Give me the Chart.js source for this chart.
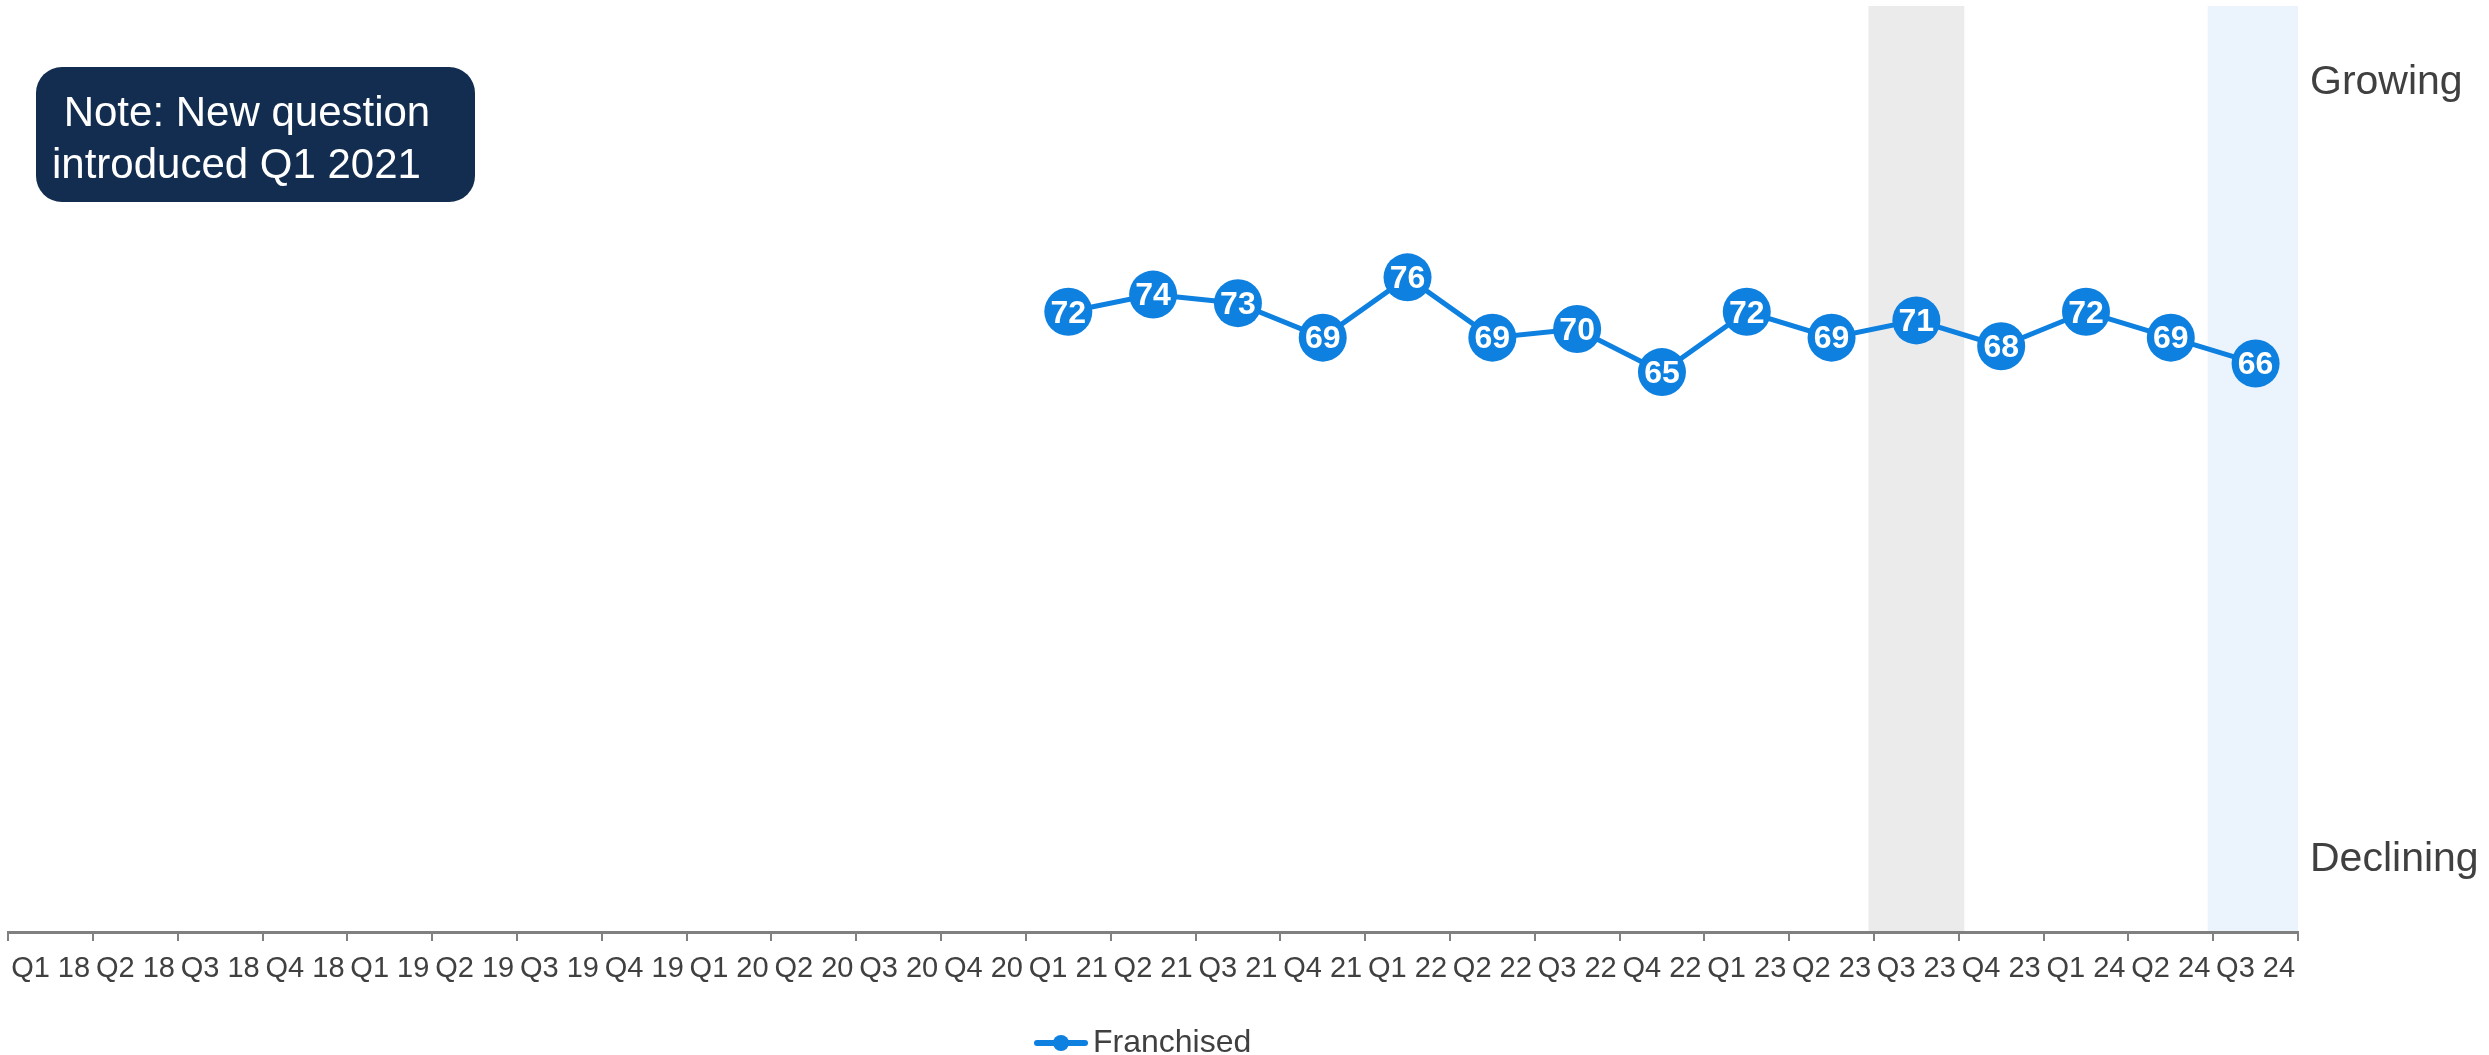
<!DOCTYPE html>
<html>
<head>
<meta charset="utf-8">
<title>Franchised trend</title>
<script src="https://cdn.jsdelivr.net/npm/chart.js@4.4.1/dist/chart.umd.min.js"></script>
<style>
  html, body { margin: 0; padding: 0; background: #fff; }
  #wrap { width: 2489px; height: 1055px; }
</style>
</head>
<body>
<div id="wrap"><canvas id="trend-chart" width="2489" height="1055"></canvas></div>
<script>
// quarters on the x axis
const quarters = [
  'Q1 18', 'Q2 18', 'Q3 18', 'Q4 18',
  'Q1 19', 'Q2 19', 'Q3 19', 'Q4 19',
  'Q1 20', 'Q2 20', 'Q3 20', 'Q4 20',
  'Q1 21', 'Q2 21', 'Q3 21', 'Q4 21',
  'Q1 22', 'Q2 22', 'Q3 22', 'Q4 22',
  'Q1 23', 'Q2 23', 'Q3 23', 'Q4 23',
  'Q1 24', 'Q2 24', 'Q3 24'
];

// question only asked from Q1 2021 onwards
const franchised = [
  null, null, null, null,
  null, null, null, null,
  null, null, null, null,
  72, 74, 73, 69,
  76, 69, 70, 65,
  72, 69, 71, 68,
  72, 69, 66
];

const highlightGrey = 'Q3 23';
const highlightBlue = 'Q3 24';
const noteLines = [' Note: New question', 'introduced Q1 2021'];
const sideLabels = ['Growing', 'Declining'];

const FONT = '"Liberation Sans", Arial, sans-serif';
const BLUE = '#0e80df';
const TEXT = '#404040';

// shaded quarter columns behind the line, a bit wider than one slot
const bandsPlugin = {
  id: 'bands',
  beforeDraw(chart) {
    const { ctx, chartArea } = chart;
    const x = chart.scales.x;
    const half = (x.getPixelForValue(1) - x.getPixelForValue(0)) * 0.565;
    const fillBand = (label, color) => {
      const cx = x.getPixelForValue(quarters.indexOf(label));
      const l = Math.max(cx - half, chartArea.left);
      const r = Math.min(cx + half, chartArea.right);
      ctx.fillStyle = color;
      ctx.fillRect(l, chartArea.top, r - l, chartArea.bottom - chartArea.top);
    };
    ctx.save();
    fillBand(highlightGrey, '#ebebeb');
    fillBand(highlightBlue, '#ebf3fc');
    ctx.restore();
  }
};

// white value inside each marker
const valueLabels = {
  id: 'valueLabels',
  afterDatasetsDraw(chart) {
    const { ctx } = chart;
    const meta = chart.getDatasetMeta(0);
    ctx.save();
    ctx.font = 'bold 32px ' + FONT;
    ctx.fillStyle = '#fff';
    ctx.textAlign = 'center';
    ctx.textBaseline = 'middle';
    meta.data.forEach((pt, i) => {
      const v = franchised[i];
      if (v === null) return;
      ctx.fillText(String(v), pt.x, pt.y + 2);
    });
    ctx.restore();
  }
};

// note box top-left and the Growing / Declining captions on the right
const extras = {
  id: 'extras',
  afterDraw(chart) {
    const { ctx, chartArea } = chart;
    ctx.save();
    ctx.fillStyle = '#122d50';
    ctx.beginPath();
    ctx.roundRect(36, 67, 439, 135, 26);
    ctx.fill();
    ctx.fillStyle = '#fff';
    ctx.font = '42px ' + FONT;
    ctx.textAlign = 'left';
    ctx.textBaseline = 'alphabetic';
    ctx.fillText(noteLines[0], 52, 126);
    ctx.fillText(noteLines[1], 52, 178);

    ctx.fillStyle = TEXT;
    ctx.font = '41px ' + FONT;
    ctx.fillText(sideLabels[0], chartArea.right + 12, chartArea.top + 88);
    ctx.fillText(sideLabels[1], chartArea.right + 12, chartArea.bottom - 61);
    ctx.restore();
  }
};

// legend marker: short line with a dot
const legendMark = document.createElement('canvas');
legendMark.width = 70;
legendMark.height = 18;
(() => {
  const c = legendMark.getContext('2d');
  c.strokeStyle = BLUE;
  c.lineWidth = 6;
  c.lineCap = 'round';
  c.beginPath();
  c.moveTo(6, 9);
  c.lineTo(54, 9);
  c.stroke();
  c.fillStyle = BLUE;
  c.beginPath();
  c.arc(30, 9, 8, 0, Math.PI * 2);
  c.fill();
})();

const ctx = document.getElementById('trend-chart').getContext('2d');
new Chart(ctx, {
  type: 'line',
  data: {
    labels: quarters,
    datasets: [{
      label: 'Franchised',
      data: franchised,
      borderColor: BLUE,
      backgroundColor: BLUE,
      borderWidth: 5,
      pointRadius: 24,
      pointHoverRadius: 24,
      pointBackgroundColor: BLUE,
      pointBorderWidth: 0,
      pointStyle: 'circle',
      tension: 0,
      spanGaps: false
    }]
  },
  options: {
    responsive: false,
    animation: false,
    devicePixelRatio: 1,
    layout: {
      autoPadding: false,
      padding: { left: 7, right: 191, top: 6, bottom: -14 }
    },
    scales: {
      x: {
        offset: true,
        grid: {
          offset: true,
          drawOnChartArea: false,
          drawTicks: true,
          tickLength: 9,
          color: '#808080',
          lineWidth: 2
        },
        border: { color: '#808080', width: 3 },
        ticks: {
          autoSkip: false,
          maxRotation: 0,
          minRotation: 0,
          padding: 11,
          color: TEXT,
          font: { family: FONT, size: 29 }
        },
        afterFit(scale) { scale.height = 91; }
      },
      y: {
        display: false,
        min: 0,
        max: 107.5
      }
    },
    plugins: {
      legend: {
        position: 'bottom',
        fullSize: false,
        labels: {
          usePointStyle: true,
          pointStyleWidth: 22,
          boxHeight: 18,
          padding: 4,
          color: TEXT,
          font: { family: FONT, size: 32 },
          generateLabels(chart) {
            const ds = chart.data.datasets[0];
            return [{
              text: ds.label,
              pointStyle: legendMark,
              fillStyle: BLUE,
              strokeStyle: BLUE,
              lineWidth: 0,
              fontColor: TEXT,
              datasetIndex: 0,
              hidden: false
            }];
          }
        }
      },
      tooltip: { enabled: false }
    }
  },
  plugins: [bandsPlugin, valueLabels, extras]
});
</script>
</body>
</html>
